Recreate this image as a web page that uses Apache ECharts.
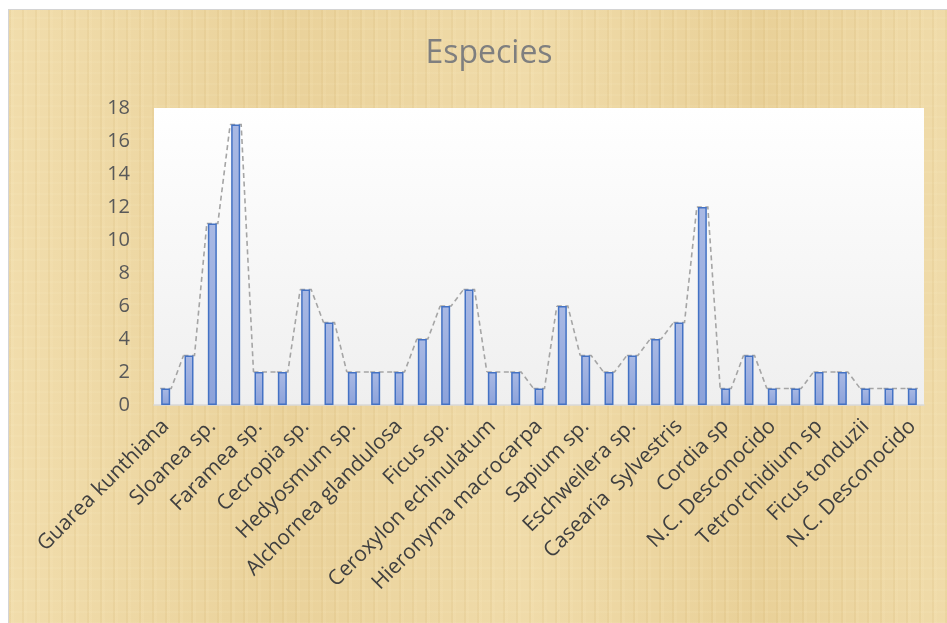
<!DOCTYPE html>
<html>
<head>
<meta charset="utf-8">
<script src="https://cdn.jsdelivr.net/npm/echarts@6/dist/echarts.min.js"></script>
<style>
  html, body { margin: 0; padding: 0; background: #fff; }
  #papiro {
    position: absolute; left: 8px; top: 9px; width: 939px; height: 614px;
    border-left: 1px solid #d4d4d4; border-top: 1px solid #d4d4d4;
    background-color: #ecd6a2;
    background-image:
      repeating-linear-gradient(90deg, rgba(190,150,70,0.09) 0 2px, rgba(255,240,200,0.10) 2px 5px, transparent 5px 13px),
      repeating-linear-gradient(0deg, rgba(255,245,210,0.08) 0 2px, transparent 2px 11px),
      linear-gradient(90deg, rgba(255,240,200,0.25), rgba(220,185,110,0.15) 30%, rgba(255,240,200,0.2) 55%, rgba(220,185,110,0.2) 80%, rgba(255,240,200,0.2));
  }
  #main { position: absolute; left: 0; top: 0; width: 947px; height: 623px; }
</style>
</head>
<body>
<div id="papiro"></div>
<div id="main"></div>
<script>
let d = document;

// especies (solo se ven las de indice par)
let especies = [
  "Guarea kunthiana", "", "Sloanea sp.", "", "Faramea sp.", "", "Cecropia sp.", "",
  "Hedyosmum sp.", "", "Alchornea glandulosa", "", "Ficus sp.", "", "Ceroxylon echinulatum", "",
  "Hieronyma macrocarpa", "", "Sapium sp.", "", "Eschweilera sp.", "", "Casearia  Sylvestris", "",
  "Cordia sp", "", "N.C. Desconocido", "", "Tetrorchidium sp", "", "Ficus tonduzii", "",
  "N.C. Desconocido"
];
let cantidad = [1, 3, 11, 17, 2, 2, 7, 5, 2, 2, 2, 4, 6, 7, 2, 2, 1, 6, 3, 2, 3, 4, 5, 12, 1, 3, 1, 1, 2, 2, 1, 1, 1];
let ticksY = [0, 2, 4, 6, 8, 10, 12, 14, 16, 18];

// datos para la linea punteada: [indice, valor, valor siguiente]
let linea = cantidad.map((v, i) => [i, v, i + 1 < cantidad.length ? cantidad[i + 1] : NaN]);

let chart = echarts.init(d.getElementById("main"), null, { renderer: "canvas" });
let fuente = "'Open Sans', 'Noto Sans', sans-serif";
let mitad = 5.5;

chart.setOption({
  backgroundColor: "transparent",
  animation: false,
  title: {
    text: "Especies",
    left: 484, top: 33, textAlign: "center",
    textStyle: { fontFamily: fuente, fontSize: 32, fontWeight: "normal", color: "#7f7f7f" }
  },
  grid: {
    left: 154, top: 108, width: 770, height: 297,
    show: true, borderWidth: 0,
    backgroundColor: new echarts.graphic.LinearGradient(0, 0, 0, 1, [
      { offset: 0, color: "#ffffff" }, { offset: 1, color: "#efefef" }
    ])
  },
  xAxis: {
    type: "category",
    data: especies,
    axisLine: { lineStyle: { color: "#d9d9d9", width: 1.5 } },
    axisTick: { show: false },
    axisLabel: {
      interval: 0, rotate: 45, margin: 18,
      fontFamily: fuente, fontSize: 21, color: "#404040"
    }
  },
  yAxis: {
    type: "value",
    min: ticksY[0], max: ticksY[ticksY.length - 1], interval: 2,
    axisLine: { show: false },
    axisTick: { show: false },
    splitLine: { show: false },
    axisLabel: { margin: 24, fontFamily: fuente, fontSize: 20, color: "#595959" }
  },
  series: [
    {
      type: "custom",
      z: 1,
      data: linea,
      encode: { x: 0, y: 1 },
      renderItem: (params, api) => {
        let i = api.value(0);
        let p = api.coord([i, api.value(1)]);
        let pts = [[p[0] - mitad, p[1]], [p[0] + mitad, p[1]]];
        let sig = api.value(2);
        if (!isNaN(sig)) {
          let q = api.coord([i + 1, sig]);
          pts.push([q[0] - mitad, q[1]]);
        }
        return {
          type: "polyline",
          shape: { points: pts },
          style: { stroke: "#a5a5a5", lineWidth: 1.6, lineDash: [5, 3.5], fill: null }
        };
      }
    },
    {
      type: "bar",
      z: 2,
      data: cantidad,
      barWidth: 9,
      itemStyle: {
        color: new echarts.graphic.LinearGradient(0, 0, 0, 1, [
          { offset: 0, color: "#a9b9e4" }, { offset: 1, color: "#8ca2da" }
        ]),
        borderColor: "#4472c4",
        borderWidth: 1.5
      }
    }
  ]
});
</script>
</body>
</html>
